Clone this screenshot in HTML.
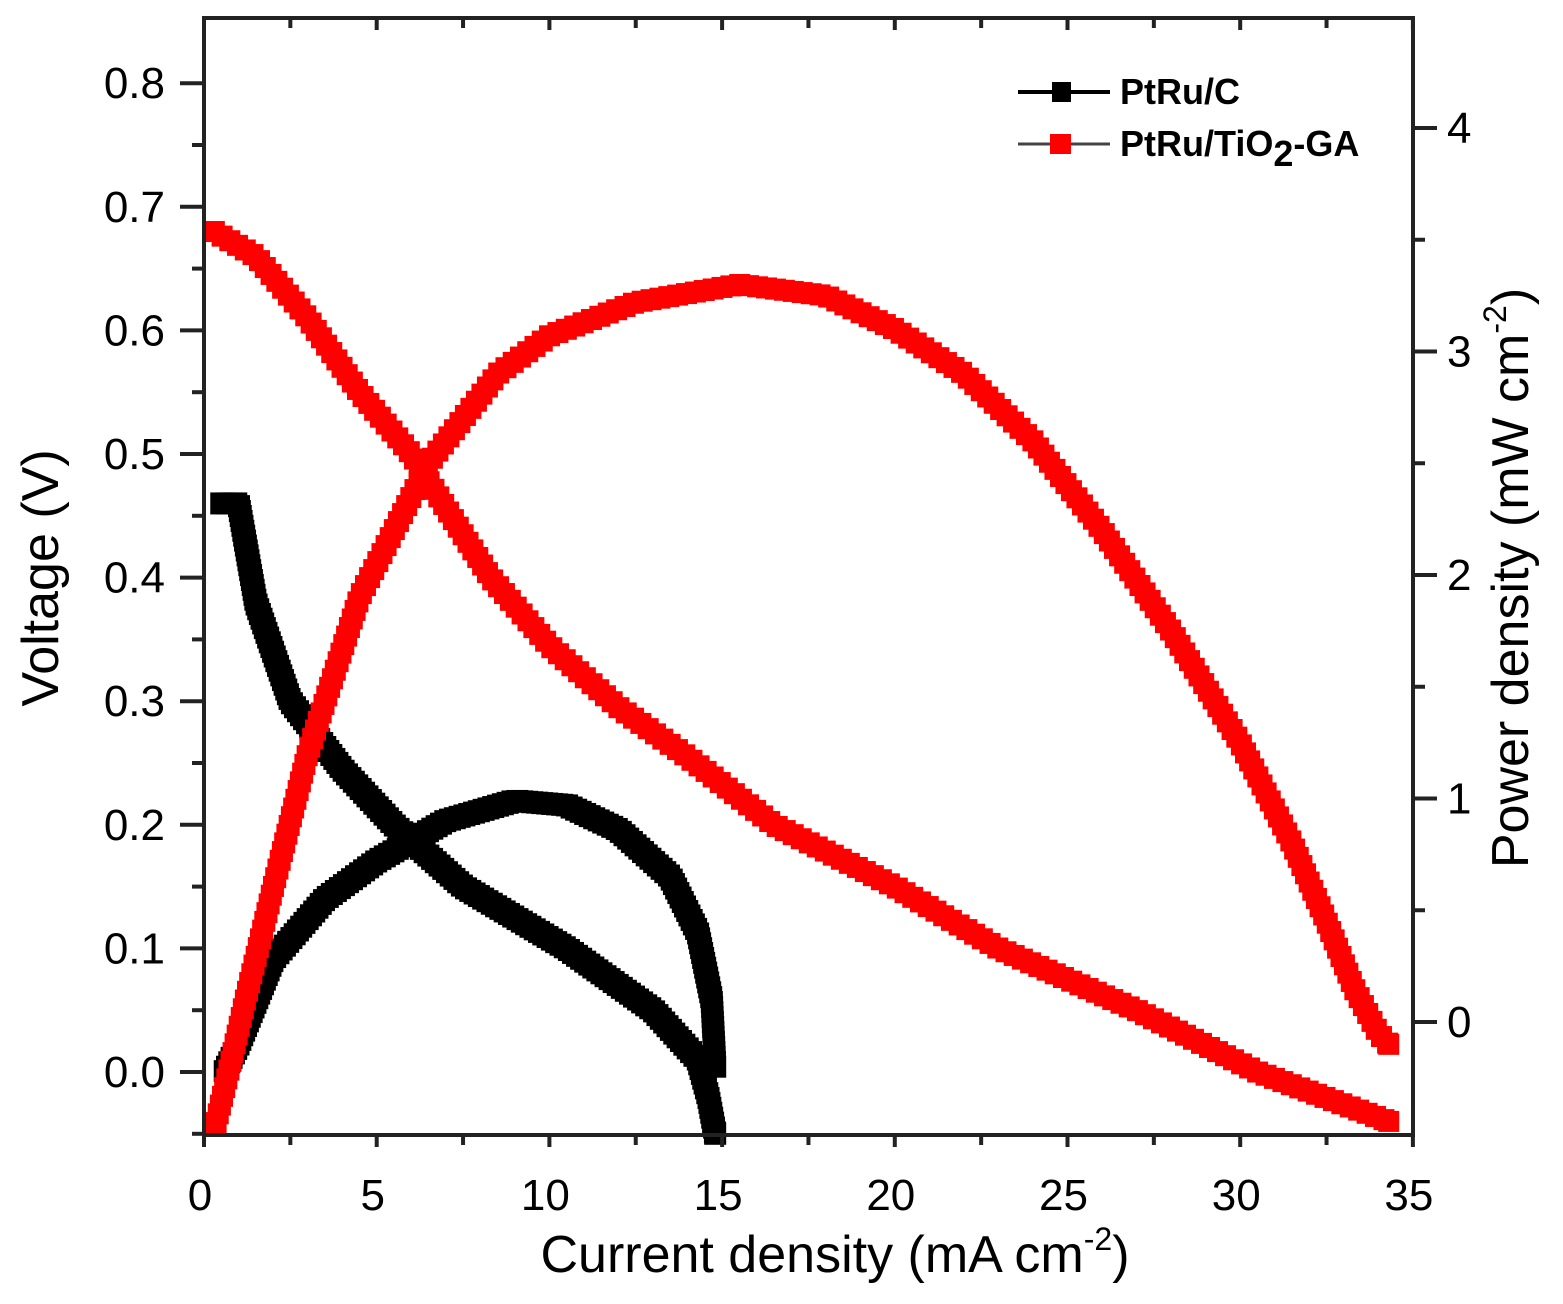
<!DOCTYPE html>
<html><head><meta charset="utf-8"><style>
html,body{margin:0;padding:0;background:#fff}
svg{display:block}
text{font-family:"Liberation Sans",Arial,sans-serif;fill:#000}
</style></head><body>
<svg id="s" width="1563" height="1304" xmlns="http://www.w3.org/2000/svg">
<g id="data"></g>
<rect x="204" y="18" width="1209" height="1117" fill="none" stroke="#222" stroke-width="4"/>
<g id="axes" stroke="#222" stroke-width="4"></g>
<g font-size="44" text-anchor="end" id="ly"></g>
<g font-size="44" text-anchor="start" id="ry"></g>
<g font-size="44" text-anchor="middle" id="bx"></g>
<text x="835" y="1272" font-size="52" text-anchor="middle">Current density (mA cm<tspan dy="-22" font-size="32">-2</tspan><tspan dy="22">)</tspan></text>
<text transform="translate(58,578) rotate(-90)" font-size="52" text-anchor="middle">Voltage (V)</text>
<text transform="translate(1528,578) rotate(-90)" font-size="52" text-anchor="middle">Power density (mW cm<tspan dy="-22" font-size="32">-2</tspan><tspan dy="22">)</tspan></text>
<g>
<line x1="1018" y1="92" x2="1110" y2="92" stroke="#000" stroke-width="4"/>
<rect x="1052" y="82" width="19" height="20" fill="#000"/>
<text x="1120" y="104" font-size="36" font-weight="bold">PtRu/C</text>
<line x1="1018" y1="144" x2="1110" y2="144" stroke="#444" stroke-width="3"/>
<rect x="1050" y="134" width="21" height="20" fill="#f00"/>
<text x="1120" y="156" font-size="36" font-weight="bold">PtRu/TiO<tspan dy="10">2</tspan><tspan dy="-10">-GA</tspan></text>
</g>
</svg>
<script>
const X0=204,XS=34.54,VY0=1072,VS=1236,PY0=1022,PS=223.5;
const NS="http://www.w3.org/2000/svg";
function el(p,t,a){const e=document.createElementNS(NS,t);for(const k in a)e.setAttribute(k,a[k]);p.appendChild(e);return e;}
const d=document.getElementById('data');
function series(pts,isV,col,sz,gap){
 const P=pts.map(([x,y])=>[X0+x*XS,isV?VY0-y*VS:PY0-y*PS]);
 let carry=0;
 for(let i=0;i<P.length-1;i++){
  const[a,b]=P[i],[c,e]=P[i+1];const L=Math.hypot(c-a,e-b);
  let t=carry;
  while(t<=L){const f=t/L;el(d,'rect',{x:a+(c-a)*f-sz/2,y:b+(e-b)*f-sz/2,width:sz,height:sz,fill:col});t+=gap;}
  carry=t-L;
 }
 const l=P[P.length-1];el(d,'rect',{x:l[0]-sz/2,y:l[1]-sz/2,width:sz,height:sz,fill:col});
}
// black
series([[0.5,0.46],[1.0,0.46],[1.5,0.38],[2.5,0.30],[4,0.245],[5.5,0.2],[7.5,0.15],[10.5,0.1],[13,0.05],[14.3,0.01],[14.6,-0.02],[14.8,-0.05]],true,'#000',22,5);
series([[0.6,-0.22],[1.0,-0.1],[2,0.28],[3.5,0.55],[5,0.72],[7,0.9],[9,0.99],[10.5,0.97],[12,0.86],[13.5,0.65],[14.3,0.4],[14.7,0.1],[14.8,-0.2]],false,'#000',22,5);
// red
series([[0.3,0.68],[1.5,0.66],[3,0.61],[4.5,0.55],[6,0.5],[8.3,0.4],[10,0.345],[12,0.295],[14,0.255],[16.5,0.2],[20,0.15],[23,0.1],[27,0.05],[30.5,0.0],[34.3,-0.04]],true,'#f00',21,9);
series([[0.35,-0.45],[0.7,-0.23],[1.2,0.1],[2,0.6],[3,1.2],[4.5,1.9],[6.5,2.5],[8.5,2.9],[10,3.07],[12.5,3.22],[15.5,3.3],[18,3.25],[20,3.1],[22,2.9],[24,2.6],[26,2.2],[28,1.75],[30,1.25],[31.5,0.8],[32.5,0.45],[33.3,0.15],[34,-0.05],[34.3,-0.1]],false,'#f00',21,9);
const ax=document.getElementById('axes');
for(let v=0;v<=8;v++){const y=VY0-v*0.1*VS;el(ax,'line',{x1:180,y1:y,x2:204,y2:y});
 el(document.getElementById('ly'),'text',{x:165,y:y+15}).textContent=(v/10).toFixed(1);
 const ym=y+0.05*VS; if(ym<1135) el(ax,'line',{x1:192,y1:ym,x2:204,y2:ym});}
for(let v=0;v<=4;v++){const y=PY0-v*PS;el(ax,'line',{x1:1413,y1:y,x2:1437,y2:y});
 el(document.getElementById('ry'),'text',{x:1447,y:y+15}).textContent=v;
 const ym=y-PS/2; if(ym>18) el(ax,'line',{x1:1413,y1:ym,x2:1425,y2:ym});}
for(let v=0;v<=35;v+=2.5){const x=X0+v*XS;const maj=v%5==0;
 el(ax,'line',{x1:x,y1:1135,x2:x,y2:maj?1147:1145});
 el(ax,'line',{x1:x,y1:18,x2:x,y2:maj?30:28});
 if(maj) el(document.getElementById('bx'),'text',{x:x-4,y:1210}).textContent=v;}
</script>
</body></html>
